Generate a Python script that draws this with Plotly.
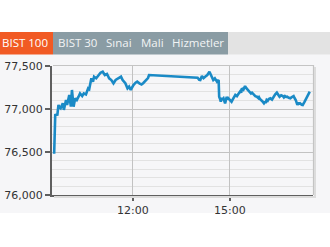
import plotly.graph_objects as go

DAY = "2019-01-02 "

times = [
    "09:34", "09:35", "09:36", "09:40", "09:42", "09:44", "09:46", "09:50", "09:52", "09:56",
    "09:58", "10:02", "10:05", "10:07", "10:10", "10:13", "10:16", "10:19", "10:22", "10:26",
    "10:29", "10:33", "10:37", "10:39", "10:43", "10:46", "10:48", "10:52", "10:55", "10:57",
    "11:00", "11:04", "11:08", "11:12", "11:16", "11:20", "11:24", "11:28", "11:32", "11:35",
    "11:38", "11:41", "11:46", "11:50", "11:53", "11:56", "12:01", "12:05", "12:08", "12:12",
    "12:16", "12:19", "12:24", "12:28", "12:30",
    "14:00", "14:03", "14:05", "14:08", "14:11", "14:14", "14:18", "14:22", "14:25", "14:29",
    "14:32", "14:36", "14:39", "14:40", "14:42", "14:43", "14:45", "14:46", "14:48", "14:50",
    "14:51", "14:54", "14:56", "14:57", "14:59", "15:01", "15:03", "15:06", "15:08", "15:10",
    "15:13", "15:16", "15:19", "15:21", "15:22", "15:25", "15:28", "15:30", "15:32", "15:35",
    "15:37", "15:39", "15:41", "15:44", "15:47", "15:50", "15:53", "15:54", "15:56", "16:00",
    "16:03", "16:05", "16:06", "16:08", "16:10", "16:12", "16:15", "16:18", "16:21", "16:24",
    "16:27", "16:30", "16:32", "16:35", "16:38", "16:40", "16:42", "16:44", "16:46", "16:49",
    "16:52", "16:55", "16:58", "17:00", "17:02", "17:05", "17:07", "17:08", "17:10", "17:13",
    "17:15", "17:18", "17:20", "17:22", "17:24", "17:26", "17:28",
]

values = [
    76480, 76930, 76930, 76935, 77047, 77020, 77008, 77066, 76990, 77105,
    77047, 77163, 77027, 77221, 77027, 77124, 77105, 77140, 77182, 77151,
    77182, 77170, 77240, 77230, 77357, 77318, 77376, 77357, 77380, 77395,
    77422, 77434, 77395, 77407, 77357, 77337, 77299, 77337, 77350, 77362,
    77376, 77337, 77299, 77240, 77260, 77221, 77279, 77306, 77318, 77299,
    77285, 77300, 77330, 77360, 77395,
    77364, 77340, 77337, 77384, 77360, 77376, 77395, 77434, 77395, 77337,
    77357, 77318, 77337, 77143, 77110, 77085, 77130, 77110, 77124, 77090,
    77066, 77143, 77110, 77125, 77113, 77100, 77085, 77120, 77140, 77163,
    77150, 77182, 77205, 77190, 77240, 77225, 77267, 77245, 77229, 77215,
    77202, 77180, 77190, 77163, 77150, 77143, 77125, 77135, 77113, 77090,
    77066, 77085, 77070, 77105, 77095, 77115, 77124, 77110, 77143, 77170,
    77190, 77150, 77143, 77160, 77151, 77135, 77150, 77140, 77143, 77130,
    77124, 77140, 77151, 77125, 77105, 77047, 77075, 77060, 77066, 77050,
    77047, 77080, 77105, 77140, 77163, 77175, 77202,
]

tab_labels = ["BIST 100", "BIST 30", "Sınai", "Mali", "Hizmetler"]
x_tick_labels = ["12:00", "15:00"]
y_tick_values = [76000, 76500, 77000, 77500]

W, H = 330, 247
L, R, T, B = 52, 313, 66, 195
pw, ph = R - L, B - T


def px(x):
    return (x - L) / pw


def py(y):
    return (B - y) / ph


fig = go.Figure()
fig.add_trace(go.Scatter(
    x=[DAY + t for t in times], y=values, mode="lines",
    line=dict(color="#1a8ac6", width=2.6), hoverinfo="skip", showlegend=False,
))

shapes = []
# panel background
shapes.append(dict(type="rect", xref="paper", yref="paper", x0=px(0), x1=px(W), y0=py(213), y1=py(54),
                   fillcolor="#f6f6f8", line=dict(width=0), layer="below"))
# tab bar
shapes.append(dict(type="rect", xref="paper", yref="paper", x0=px(0), x1=px(53), y0=py(54.5), y1=py(32),
                   fillcolor="#f15a24", line=dict(width=0), layer="below"))
shapes.append(dict(type="rect", xref="paper", yref="paper", x0=px(53), x1=px(228), y0=py(54.5), y1=py(32),
                   fillcolor="#8a9ca4", line=dict(width=0), layer="below"))
shapes.append(dict(type="rect", xref="paper", yref="paper", x0=px(228), x1=px(W), y0=py(54.5), y1=py(32),
                   fillcolor="#e3e3e3", line=dict(width=0), layer="below"))
# shadow and top/right border
shapes.append(dict(type="path", xref="paper", yref="paper",
                   path=f"M {px(L+1)},{py(T-0.5)} L {px(R+0.5)},{py(T-0.5)} L {px(R+0.5)},{py(B)}",
                   line=dict(color="#c4c4c4", width=1.2)))
shapes.append(dict(type="path", xref="paper", yref="paper",
                   path=f"M {px(R+2)},{py(T+1)} L {px(R+2)},{py(B+2)} L {px(L+2)},{py(B+2)}",
                   line=dict(color="#dcdcdc", width=2)))
fig.update_layout(shapes=shapes)

# tab labels
tab_x = [24.5, 77, 119, 152.5, 198]
for lab, xc, i in zip(tab_labels, tab_x, range(len(tab_labels))):
    fig.add_annotation(text=lab, xref="paper", yref="paper", x=px(xc), y=py(43), showarrow=False,
                       xanchor="center", yanchor="middle",
                       font=dict(family="Open Sans", size=11.5, color="#ffffff" if i == 0 else "#f2f4f5"))

fig.update_xaxes(
    range=[DAY + "09:30", DAY + "17:34"],
    tickvals=[DAY + t for t in x_tick_labels], ticktext=x_tick_labels,
    showgrid=True, gridcolor="#c2c2c2", gridwidth=1,
    showline=True, linecolor="#5f5f5f", linewidth=2,
    ticks="outside", ticklen=4, tickcolor="#5f5f5f", tickwidth=1.5,
    tickfont=dict(family="DejaVu Sans", size=11, color="#333333"),
    zeroline=False, fixedrange=True, automargin=False,
)
fig.update_yaxes(
    range=[76000, 77500],
    tickvals=y_tick_values, tickformat=",d",
    showgrid=True, gridcolor="#c2c2c2", gridwidth=1,
    minor=dict(dtick=100, tick0=76000, showgrid=True, gridcolor="#e2e2e2", gridwidth=1, ticks=""),
    showline=True, linecolor="#5f5f5f", linewidth=2,
    ticks="outside", ticklen=5, tickcolor="#5f5f5f", tickwidth=1.5,
    tickfont=dict(family="DejaVu Sans", size=11, color="#333333"),
    zeroline=False, fixedrange=True, automargin=False,
)

fig.update_layout(
    width=W, height=H,
    margin=dict(l=L, r=W - R, t=T, b=H - B, pad=0),
    paper_bgcolor="#ffffff", plot_bgcolor="#fbfbfb",
    showlegend=False,
)

fig.write_html("out.html", config={"displayModeBar": False})
